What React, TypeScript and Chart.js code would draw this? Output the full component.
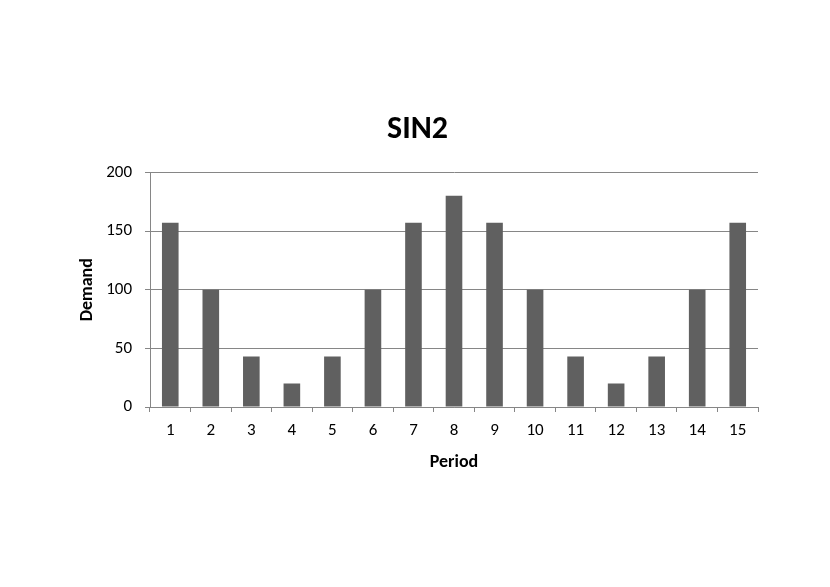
import React, { useEffect, useRef } from "react";
import { Chart, registerables } from "chart.js";

Chart.register(...registerables);

const periods = ["1", "2", "3", "4", "5", "6", "7", "8", "9", "10", "11", "12", "13", "14", "15"];
const demand = [157, 100, 43, 20, 43, 100, 157, 180, 157, 100, 43, 20, 43, 100, 157];
const chartTitle = "SIN2";
const xTitle = "Period";
const yTitle = "Demand";
const yMin = 0;
const yMax = 200;
const yStep = 50;

const FONT = "Carlito, Calibri, Lato, 'Noto Sans', sans-serif";
const GRID = "#868686";

export default function App() {
  const ref = useRef<HTMLCanvasElement | null>(null);
  useEffect(() => {
    if (!ref.current) return;
    const chart = new Chart(ref.current, {
      type: "bar",
      data: {
        labels: periods,
        datasets: [
          {
            data: demand,
            backgroundColor: "#606060",
            borderWidth: 0,
            barPercentage: 0.41,
            categoryPercentage: 1,
          },
        ],
      },
      options: {
        animation: false,
        responsive: false,
        maintainAspectRatio: false,
        layout: { padding: { left: 77, right: 72, top: 111, bottom: 114 } },
        plugins: {
          legend: { display: false },
          tooltip: { enabled: false },
          title: {
            display: true,
            text: chartTitle,
            color: "#000",
            font: { family: FONT, size: 32, weight: "bold" },
            padding: { top: 0, bottom: 23 },
          },
        },
        scales: {
          x: {
            grid: {
              drawOnChartArea: false,
              drawTicks: true,
              tickLength: 5,
              color: GRID,
              offset: true,
            },
            border: { color: GRID, width: 1 },
            ticks: {
              color: "#000",
              font: { family: FONT, size: 17 },
              padding: 9,
              maxRotation: 0,
            },
            title: {
              display: true,
              text: xTitle,
              color: "#000",
              font: { family: FONT, size: 18, weight: "bold" },
              padding: { top: 0, bottom: 0 },
            },
            afterFit: (s: any) => {
              s.height = 66;
            },
          },
          y: {
            min: yMin,
            max: yMax,
            grid: {
              color: GRID,
              drawTicks: true,
              tickLength: 5,
            },
            border: { color: GRID, width: 1 },
            ticks: {
              stepSize: yStep,
              color: "#000",
              font: { family: FONT, size: 17 },
              padding: 13,
            },
            title: {
              display: true,
              text: yTitle,
              color: "#000",
              font: { family: FONT, size: 18, weight: "bold" },
              padding: { top: 0, bottom: 0 },
            },
            afterFit: (s: any) => {
              s.width = 73;
            },
          },
        },
      },
    });
    return () => chart.destroy();
  }, []);
  return (
    <div style={{ position: "fixed", left: 0, top: 0, width: 830, height: 587, background: "#fff" }}>
      <canvas ref={ref} width={830} height={587} style={{ width: 830, height: 587 }} />
    </div>
  );
}
